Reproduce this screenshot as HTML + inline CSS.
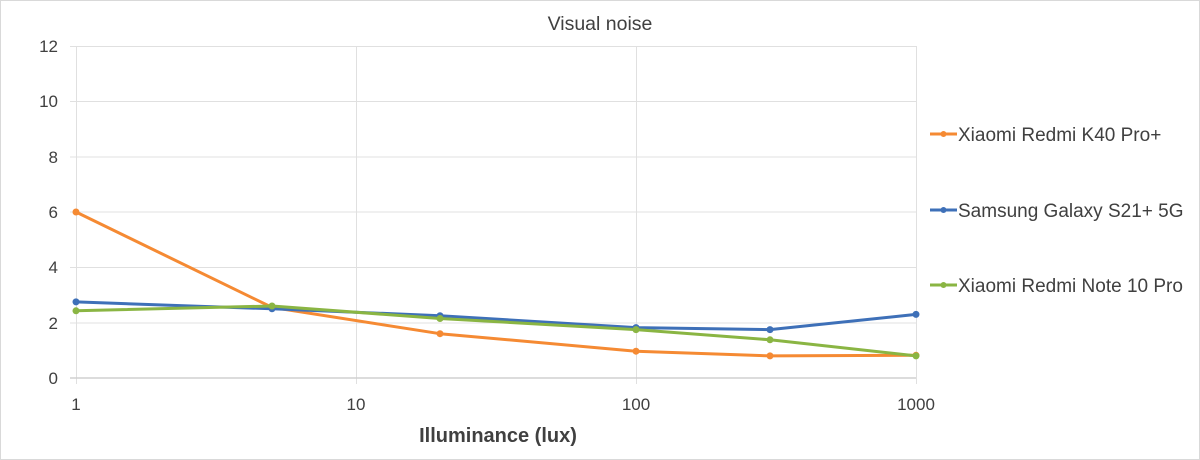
<!DOCTYPE html>
<html><head><style>body{margin:0;background:#fff}svg{display:block}</style></head><body>
<svg width="1200" height="460" xmlns="http://www.w3.org/2000/svg" font-family="Liberation Sans, sans-serif">
<rect x="0.5" y="0.5" width="1199" height="459" fill="#fff" stroke="#d9d9d9"/>
<text x="600" y="30" text-anchor="middle" font-size="19.5" fill="#404040">Visual noise</text>
<g stroke="#e0e0e0" stroke-width="1">
<line x1="70" y1="46.5" x2="916" y2="46.5"/><line x1="70" y1="101.5" x2="916" y2="101.5"/>
<line x1="70" y1="157" x2="916" y2="157"/><line x1="70" y1="212" x2="916" y2="212"/>
<line x1="70" y1="267.5" x2="916" y2="267.5"/><line x1="70" y1="323" x2="916" y2="323"/>
<line x1="76.5" y1="46" x2="76.5" y2="384"/><line x1="356.5" y1="46" x2="356.5" y2="384"/>
<line x1="636.5" y1="46" x2="636.5" y2="384"/><line x1="916.5" y1="46" x2="916.5" y2="384"/>
</g>
<line x1="70" y1="378" x2="916" y2="378" stroke="#d0d0d0" stroke-width="1.5"/>
<g font-size="17" fill="#404040" text-anchor="end">
<text x="58" y="52">12</text><text x="58" y="107">10</text><text x="58" y="163">8</text>
<text x="58" y="218">6</text><text x="58" y="273">4</text><text x="58" y="329">2</text><text x="58" y="384">0</text>
</g>
<g font-size="17" fill="#404040" text-anchor="middle">
<text x="76" y="410">1</text><text x="356" y="410">10</text><text x="636" y="410">100</text><text x="916" y="410">1000</text>
</g>
<text x="498" y="442" text-anchor="middle" font-size="20" font-weight="bold" fill="#404040">Illuminance (lux)</text>
<g fill="none" stroke-width="3" stroke-linejoin="round">
<polyline stroke="#f58a33" points="76,212 272,307.4 440,333.7 636,351.2 770,355.9 916,355.3"/>
<polyline stroke="#3e70b8" points="76,301.9 272,308.8 440,315.7 636,327.6 770,329.6 916,314.4"/>
<polyline stroke="#8ab543" points="76,310.8 272,306 440,318.5 636,329.6 770,339.8 916,355.9"/>
</g>
<g fill="#f58a33"><circle cx="76" cy="212" r="3.5"/><circle cx="272" cy="307.4" r="3.5"/><circle cx="440" cy="333.7" r="3.5"/><circle cx="636" cy="351.2" r="3.5"/><circle cx="770" cy="355.9" r="3.5"/><circle cx="916" cy="355.3" r="3.5"/></g>
<g fill="#3e70b8"><circle cx="76" cy="301.9" r="3.5"/><circle cx="272" cy="308.8" r="3.5"/><circle cx="440" cy="315.7" r="3.5"/><circle cx="636" cy="327.6" r="3.5"/><circle cx="770" cy="329.6" r="3.5"/><circle cx="916" cy="314.4" r="3.5"/></g>
<g fill="#8ab543"><circle cx="76" cy="310.8" r="3.5"/><circle cx="272" cy="306" r="3.5"/><circle cx="440" cy="318.5" r="3.5"/><circle cx="636" cy="329.6" r="3.5"/><circle cx="770" cy="339.8" r="3.5"/><circle cx="916" cy="355.9" r="3.5"/></g>
<g stroke-width="3"><line x1="930" y1="134" x2="957" y2="134" stroke="#f58a33"/><line x1="930" y1="210" x2="957" y2="210" stroke="#3e70b8"/><line x1="930" y1="285" x2="957" y2="285" stroke="#8ab543"/></g>
<circle cx="943.5" cy="134" r="3" fill="#f58a33"/><circle cx="943.5" cy="210" r="3" fill="#3e70b8"/><circle cx="943.5" cy="285" r="3" fill="#8ab543"/>
<g font-size="19" fill="#404040">
<text x="958" y="141">Xiaomi Redmi K40 Pro+</text>
<text x="958" y="217">Samsung Galaxy S21+ 5G</text>
<text x="958" y="292">Xiaomi Redmi Note 10 Pro</text>
</g>
</svg>
</body></html>
